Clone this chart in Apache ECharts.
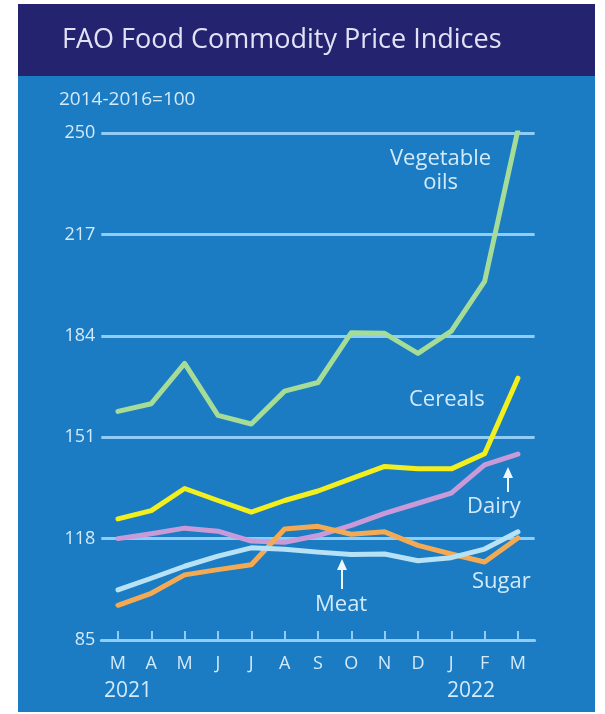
<!DOCTYPE html>
<html>
<head>
<meta charset="utf-8">
<script src="https://cdn.jsdelivr.net/npm/echarts@6/dist/echarts.min.js"></script>
<style>
html,body{margin:0;padding:0;background:#ffffff;}
#c{width:605px;height:714px;}
</style>
</head>
<body>
<div id="c"></div>
<script>
const months = ['M','A','M','J','J','A','S','O','N','D','J','F','M'];
const yTicks = [85, 118, 151, 184, 217, 250];
const vegOils = [159.4, 161.9, 175.0, 158.1, 155.3, 166.0, 168.8, 185.0, 184.8, 178.3, 185.5, 201.7, 251.0];
const cereals = [124.4, 127.1, 134.3, 130.4, 126.6, 130.4, 133.5, 137.5, 141.5, 140.7, 140.7, 145.6, 170.2];
const dairy = [118.0, 119.6, 121.4, 120.4, 117.2, 116.8, 119.0, 122.3, 126.2, 129.5, 132.8, 142.0, 145.5];
const sugar = [96.3, 100.2, 106.2, 107.9, 109.5, 121.1, 122.0, 119.4, 120.2, 115.8, 113.0, 110.4, 118.2];
const meat = [101.3, 105.1, 109.0, 112.3, 115.0, 114.5, 113.6, 112.8, 113.0, 110.8, 111.8, 114.6, 120.2];

const chart = echarts.init(document.getElementById('c'), null, {renderer: 'canvas'});
const txt = '#d3eafa';
const ff = '"Open Sans", "Noto Sans", sans-serif';

function line(name, data, color) {
  return {
    name: name, type: 'line', data: data, symbol: 'none', smooth: false,
    lineStyle: {color: color, width: 5, cap: 'round', join: 'round'},
    z: 3
  };
}

chart.setOption({
  backgroundColor: '#ffffff',
  animation: false,
  grid: {left: 101.3, width: 433.3, top: 133, bottom: 714 - 640},
  xAxis: {
    type: 'category', data: months, boundaryGap: true,
    axisLine: {lineStyle: {color: '#8fcdf6', width: 3}},
    axisTick: {show: true, alignWithLabel: true, inside: true, length: 9, lineStyle: {color: '#8fcdf6', width: 2}},
    axisLabel: {color: txt, fontSize: 18, fontFamily: ff, margin: 15, interval: 0},
    splitLine: {show: false}
  },
  yAxis: {
    type: 'value', min: 85, max: 250, interval: 33,
    axisLine: {show: false}, axisTick: {show: false},
    axisLabel: {color: txt, fontSize: 18, fontFamily: ff, margin: 6},
    splitLine: {show: true, lineStyle: {color: '#8fcdf6', width: 3}}
  },
  graphic: [
    {type: 'rect', shape: {x: 18, y: 4, width: 577, height: 708}, style: {fill: '#1b7bc3'}, z: -10, silent: true},
    {type: 'rect', shape: {x: 18, y: 4, width: 577, height: 72}, style: {fill: '#24236f'}, z: -9, silent: true},
    {type: 'text', left: 62, top: 27, style: {text: 'FAO Food Commodity Price Indices', fill: '#e2e2f6', fontSize: 27, fontFamily: ff}, z: 10},
    {type: 'text', left: 59, top: 90, style: {text: '2014-2016=100', fill: txt, fontSize: 19, fontFamily: ff}, z: 10},
    {type: 'text', left: 390, top: 147, style: {text: 'Vegetable\noils', fill: txt, fontSize: 22, fontFamily: ff, textAlign: 'center', lineHeight: 24}, z: 10},
    {type: 'text', left: 409, top: 389, style: {text: 'Cereals', fill: txt, fontSize: 22, fontFamily: ff}, z: 10},
    {type: 'text', left: 467, top: 496, style: {text: 'Dairy', fill: txt, fontSize: 22, fontFamily: ff}, z: 10},
    {type: 'text', left: 472, top: 571, style: {text: 'Sugar', fill: txt, fontSize: 22, fontFamily: ff}, z: 10},
    {type: 'text', left: 315, top: 594, style: {text: 'Meat', fill: txt, fontSize: 22, fontFamily: ff}, z: 10},
    {type: 'line', shape: {x1: 508, y1: 492, x2: 508, y2: 476}, style: {stroke: '#eef7fd', lineWidth: 2}, z: 10},
    {type: 'polygon', shape: {points: [[508, 467], [503, 478], [513, 478]]}, style: {fill: '#eef7fd'}, z: 10},
    {type: 'line', shape: {x1: 342, y1: 589, x2: 342, y2: 568}, style: {stroke: '#eef7fd', lineWidth: 2}, z: 10},
    {type: 'polygon', shape: {points: [[342, 559], [337, 570], [347, 570]]}, style: {fill: '#eef7fd'}, z: 10},
    {type: 'text', left: 104, top: 681, style: {text: '2021', fill: txt, fontSize: 21, fontFamily: ff}, z: 10},
    {type: 'text', left: 447, top: 681, style: {text: '2022', fill: txt, fontSize: 21, fontFamily: ff}, z: 10}
  ],
  series: [
    line('Vegetable oils', vegOils, '#a4dc98'),
    line('Cereals', cereals, '#f3ef1e'),
    line('Dairy', dairy, '#c89bd8'),
    line('Sugar', sugar, '#f4aa52'),
    line('Meat', meat, '#b7e2f6')
  ]
});
</script>
</body>
</html>
